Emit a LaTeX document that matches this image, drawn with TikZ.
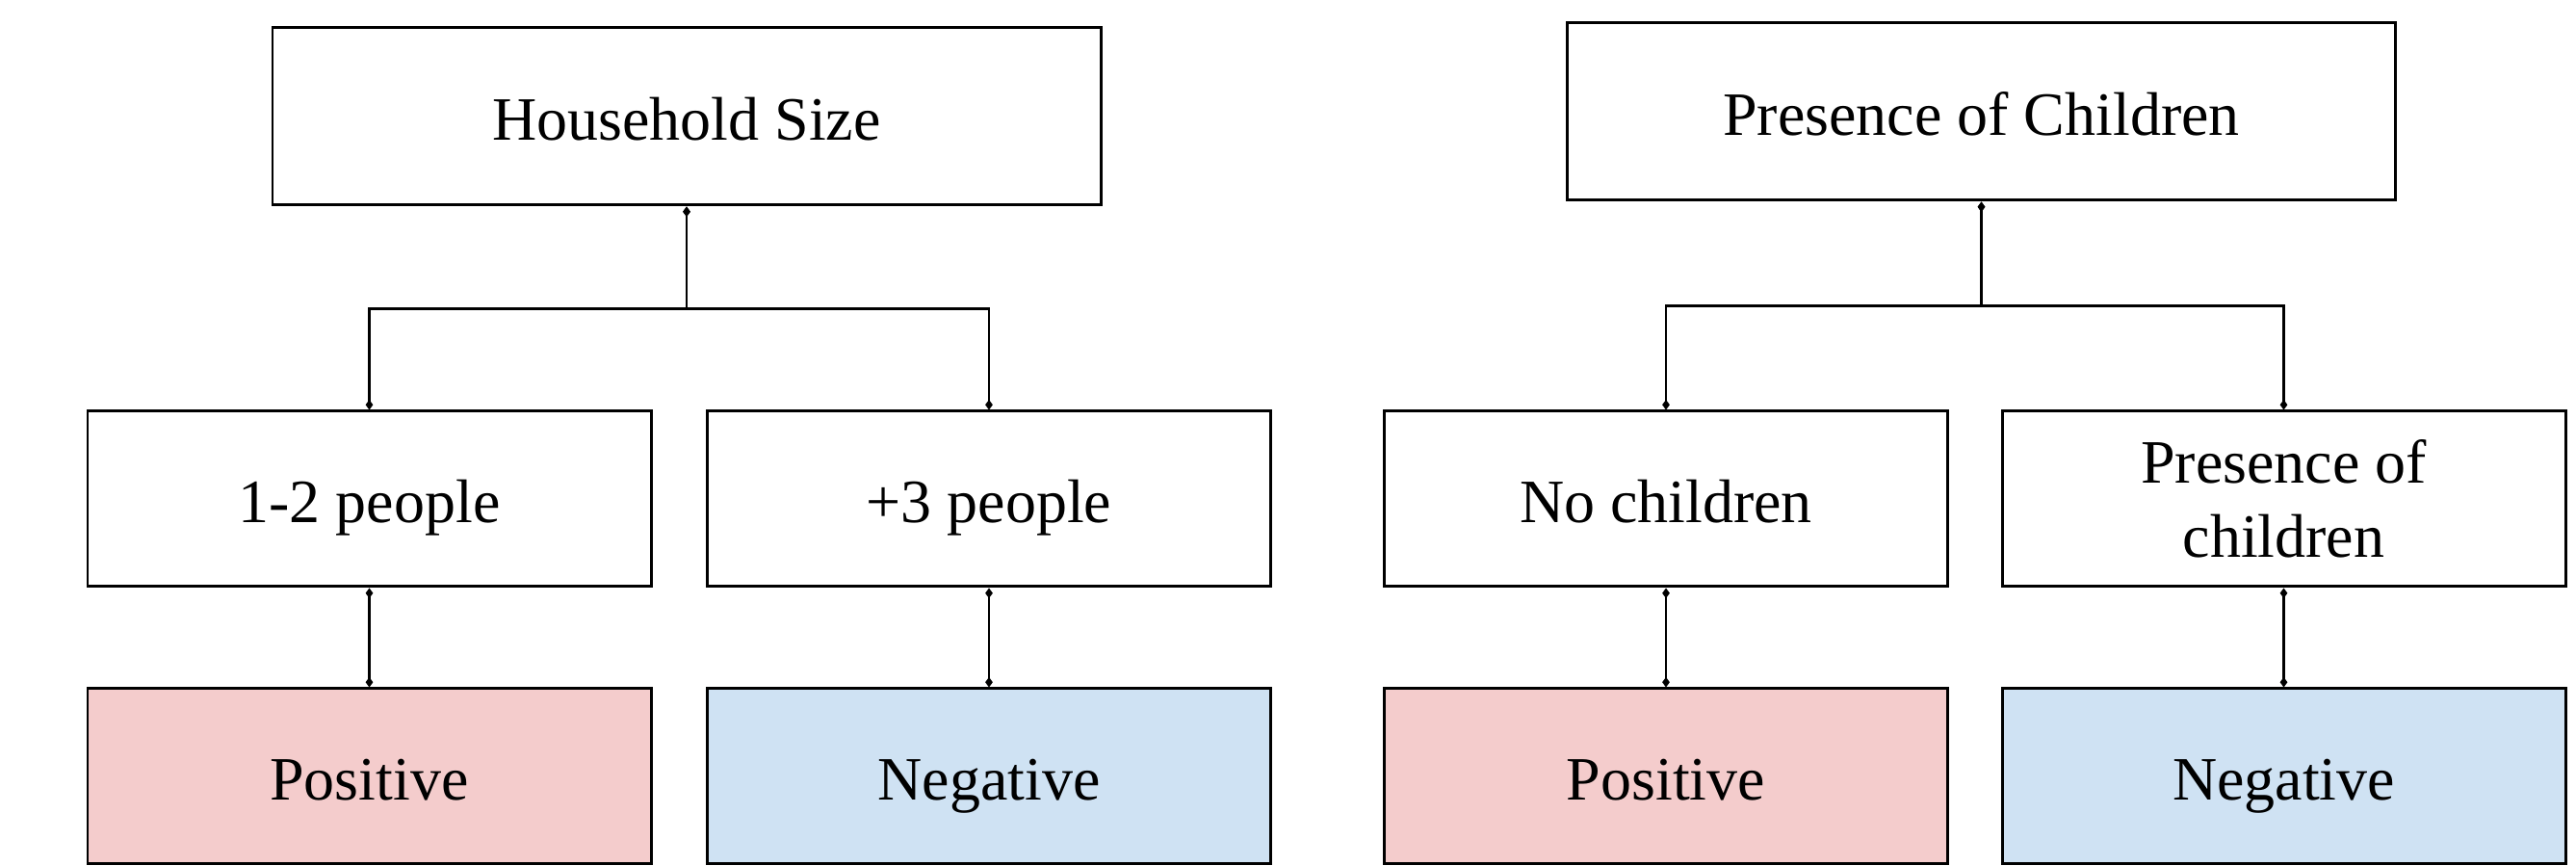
\documentclass[tikz,border=0pt]{standalone}
\usepackage{fontspec}
\setmainfont{Liberation Serif}
\usetikzlibrary{arrows.meta}
\definecolor{posred}{HTML}{F4CCCC}
\definecolor{negblue}{HTML}{CFE2F3}
\tikzset{>={Diamond[length=3pt,width=2.2pt]}}
\tikzset{frame/.style={draw,line width=0.85pt,minimum width=5.85cm,minimum height=1.82cm,inner sep=0pt,align=center,font=\fontsize{18.2}{22}\selectfont},
  box/.style={frame,text height=14pt,text depth=0pt},
  bigbox/.style={box,minimum width=8.6cm,minimum height=1.84cm},
  posbox/.style={box,fill=posred},
  negbox/.style={box,fill=negblue},
  link/.style={<->,line width=0.6pt}}

\begin{document}
\begin{tikzpicture}
\useasboundingbox (0,0) rectangle (26.75,-8.99);
\node[bigbox] (HS) at (7.13,-1.21) {Household Size};
\node[box] (A) at (3.835,-5.18) {1-2 people};
\node[box] (B) at (10.27,-5.18) {+3 people};
\node[posbox] (AP) at (3.835,-8.06) {Positive};
\node[negbox] (BN) at (10.27,-8.06) {Negative};
\draw[link] (HS.south) -- ++(0,-1.06) -| (A.north);
\draw[link] (HS.south) -- ++(0,-1.06) -| (B.north);
\draw[link] (A) -- (AP);
\draw[link] (B) -- (BN);
\node[bigbox] (PC) at (20.575,-1.16) {Presence of Children};
\node[box] (C) at (17.30,-5.18) {No children};
\node[frame] (D) at (23.715,-5.18) {Presence of\\children};
\node[posbox] (CP) at (17.30,-8.06) {Positive};
\node[negbox] (DN) at (23.715,-8.06) {Negative};
\draw[link] (PC.south) -- ++(0,-1.08) -| (C.north);
\draw[link] (PC.south) -- ++(0,-1.08) -| (D.north);
\draw[link] (C) -- (CP);
\draw[link] (D) -- (DN);
\end{tikzpicture}
\end{document}
